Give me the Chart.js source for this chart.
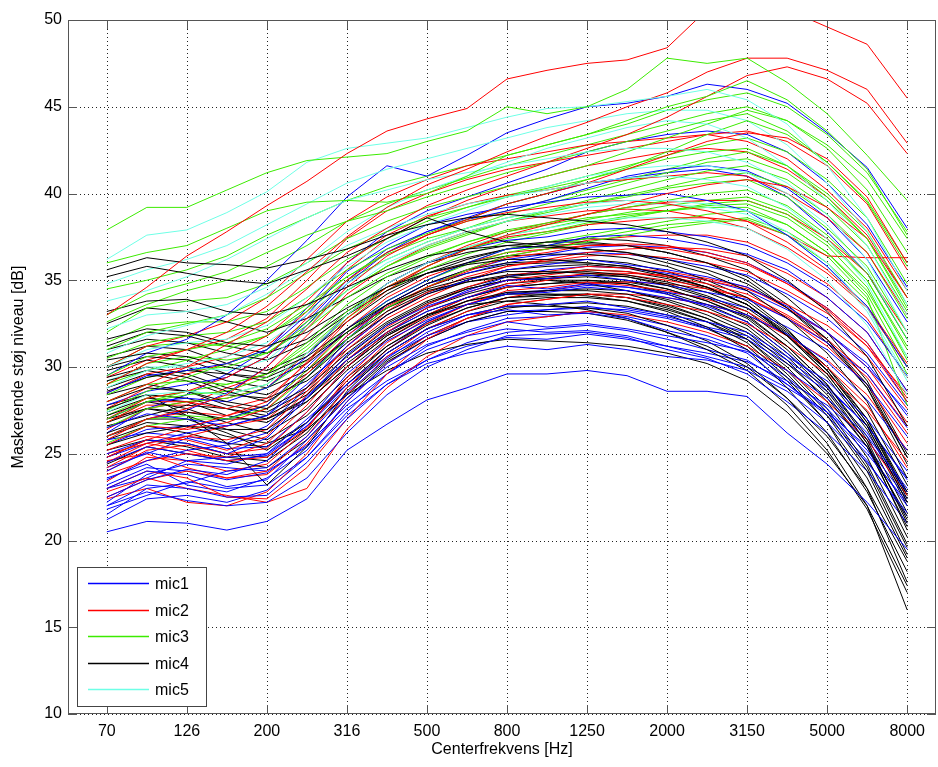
<!DOCTYPE html>
<html>
<head>
<meta charset="utf-8">
<script src="https://cdn.jsdelivr.net/npm/chart.js@4.4.1/dist/chart.umd.min.js"></script>
<style>
  body { margin: 0; background: #fff; }
  #wrap { width: 938px; height: 767px; }
</style>
</head>
<body>
<div id="wrap"><canvas id="chart" width="938" height="767"></canvas></div>
<script>
// 1/3-oktav centerfrekvenser (x-akse), kun hvert andet bånd får en etiket
const bandFreqs = [70, 100, 126, 160, 200, 250, 316, 400, 500, 630, 800, 1000, 1250, 1600, 2000, 2500, 3150, 4000, 5000, 6300, 8000];
const tickFreqs = [70, 126, 200, 316, 500, 800, 1250, 2000, 3150, 5000, 8000];
const yTicks = [10, 15, 20, 25, 30, 35, 40, 45, 50];
const micNames = ["mic1", "mic2", "mic3", "mic4", "mic5"];
const micColors = ["rgb(0,0,255)", "rgb(255,0,0)", "rgb(60,235,0)", "rgb(0,0,0)", "rgb(110,255,230)"];

// mic1 (blå)
const mic1 = [
  [20.5, 21.1, 21.0, 20.6, 21.1, 22.4, 25.2, 26.7, 28.1, 28.8, 29.6, 29.6, 29.8, 29.5, 28.6, 28.6, 28.3, 26.2, 24.4, 22.2, 19.5],
  [22.0, 23.2, 23.0, 22.5, 22.6, 24.5, 27.0, 29.0, 30.2, 30.8, 31.2, 31.0, 31.3, 31.0, 30.6, 30.4, 29.8, 28.6, 26.8, 24.5, 21.6],
  [23.0, 24.0, 23.8, 23.1, 23.5, 25.8, 28.2, 30.0, 31.3, 32.0, 32.6, 32.3, 32.5, 32.2, 31.8, 31.4, 30.9, 29.8, 28.2, 26.0, 23.0],
  [24.0, 25.1, 24.6, 24.8, 25.0, 27.0, 29.0, 30.8, 32.2, 33.0, 33.5, 33.6, 33.8, 33.4, 33.0, 32.6, 32.0, 30.6, 29.2, 27.0, 24.0],
  [22.5, 23.5, 24.1, 23.8, 24.6, 26.8, 29.6, 31.5, 32.7, 33.6, 34.2, 34.3, 34.6, 34.4, 34.0, 33.6, 33.0, 31.9, 30.3, 28.1, 25.2],
  [25.0, 25.8, 25.6, 25.0, 25.9, 28.2, 30.7, 32.4, 33.5, 34.3, 35.0, 35.1, 35.3, 35.0, 34.7, 34.3, 33.9, 32.8, 31.4, 29.6, 26.5],
  [21.5, 23.0, 23.3, 24.0, 24.2, 26.0, 28.5, 30.5, 32.0, 33.0, 33.3, 33.0, 33.1, 32.8, 32.1, 31.6, 30.8, 29.0, 27.4, 25.0, 22.2],
  [26.5, 27.3, 27.0, 26.6, 27.2, 29.0, 31.2, 33.0, 34.2, 35.0, 35.6, 35.9, 36.2, 35.9, 35.6, 35.2, 34.6, 33.5, 32.0, 30.0, 27.4],
  [28.5, 29.5, 29.8, 30.2, 31.0, 33.0, 35.5, 37.0, 38.2, 38.8, 39.2, 39.5, 39.8, 39.9, 40.0, 39.6, 39.0, 37.6, 35.8, 33.5, 30.0],
  [29.5, 30.8, 31.6, 33.0, 35.0, 37.3, 39.8, 41.6, 41.0, 42.2, 43.5, 44.3, 45.0, 45.2, 45.6, 46.3, 46.0, 45.2, 43.5, 41.5, 38.0],
  [27.0, 28.0, 28.2, 28.0, 28.8, 30.6, 33.0, 34.8, 36.0, 36.8, 37.3, 37.5, 37.9, 38.0, 37.8, 37.5, 37.0, 36.0, 34.6, 32.6, 29.5],
  [23.5, 24.6, 25.2, 25.5, 26.2, 28.3, 30.4, 32.0, 33.2, 34.0, 34.7, 34.5, 34.8, 34.6, 34.2, 33.5, 32.6, 30.8, 28.9, 26.6, 23.5],
  [22.0, 22.8, 22.3, 22.0, 22.2, 23.6, 26.2, 28.4, 30.0, 31.0, 31.8, 31.9, 32.0, 31.7, 31.0, 30.5, 29.6, 28.0, 26.2, 24.0, 21.0],
  [25.5, 26.4, 26.6, 27.0, 27.8, 30.0, 32.2, 33.8, 35.0, 36.0, 36.8, 37.0, 37.5, 37.6, 37.4, 37.0, 36.5, 35.6, 34.0, 32.0, 28.6],
  [24.5, 25.4, 25.0, 24.6, 24.9, 26.6, 29.0, 31.0, 32.6, 33.6, 34.3, 34.4, 34.7, 34.6, 34.3, 34.0, 33.4, 32.3, 31.0, 29.0, 26.0],
  [26.0, 27.0, 27.5, 28.5, 30.0, 32.4, 34.8, 36.6, 37.8, 38.5, 39.0, 39.6, 40.3, 41.0, 41.4, 41.6, 41.3, 40.3, 38.6, 36.2, 32.6],
  [23.2, 24.2, 24.0, 23.5, 23.9, 25.5, 27.8, 29.6, 31.0, 31.8, 32.2, 32.0, 32.1, 31.8, 31.2, 30.6, 30.0, 28.8, 27.4, 25.4, 22.4],
  [21.8, 22.6, 23.4, 23.0, 23.2, 24.8, 27.4, 29.6, 31.2, 32.1, 32.8, 32.9, 33.2, 32.9, 32.4, 31.8, 31.0, 29.4, 27.6, 25.2, 22.0],
  [23.6, 24.4, 23.2, 22.8, 23.6, 25.2, 28.0, 30.2, 31.6, 32.6, 33.0, 33.3, 33.4, 33.3, 32.9, 32.3, 31.8, 30.4, 28.8, 26.6, 23.6],
  [24.2, 25.0, 25.9, 25.3, 25.4, 27.4, 30.0, 32.0, 33.4, 34.4, 35.2, 35.6, 35.8, 35.7, 35.4, 35.0, 34.4, 33.3, 32.0, 30.2, 27.2],
  [22.2, 23.8, 24.4, 24.2, 24.0, 25.4, 27.6, 29.2, 30.4, 31.2, 31.7, 31.6, 31.9, 31.6, 31.2, 30.8, 30.3, 29.2, 27.8, 25.8, 22.8],
  [25.8, 26.2, 26.0, 25.6, 26.6, 28.8, 31.6, 33.6, 34.8, 35.4, 36.0, 36.4, 36.6, 36.5, 36.2, 35.8, 35.3, 34.2, 32.8, 30.8, 27.8],
  [27.8, 28.6, 29.0, 29.4, 30.6, 32.6, 35.0, 36.8, 37.8, 38.6, 39.4, 40.0, 40.6, 40.9, 41.2, 41.4, 41.0, 39.8, 37.8, 35.4, 31.6],
  [23.0, 23.6, 24.6, 24.4, 25.0, 26.6, 28.8, 30.6, 31.8, 32.6, 33.2, 33.3, 33.5, 33.2, 32.8, 32.2, 31.6, 30.2, 28.6, 26.2, 22.8],
  [24.8, 25.6, 26.2, 26.6, 27.2, 29.4, 31.8, 33.6, 34.8, 35.6, 36.2, 36.5, 36.9, 37.0, 36.9, 36.6, 36.0, 34.9, 33.4, 31.4, 28.0],
  [21.2, 22.4, 22.6, 22.2, 22.9, 24.8, 27.2, 29.0, 30.4, 31.4, 32.0, 32.2, 32.4, 32.1, 31.6, 31.0, 30.4, 29.0, 27.2, 24.6, 21.4],
  [26.2, 27.6, 28.4, 29.6, 31.0, 33.4, 36.0, 37.8, 39.0, 39.8, 40.6, 41.4, 42.4, 43.0, 43.4, 43.6, 43.4, 42.4, 40.6, 38.2, 34.6]
];

// mic2 (rød)
const mic2 = [
  [33.0, 34.6, 36.4, 37.8, 39.3, 40.7, 42.3, 43.6, 44.3, 44.9, 46.6, 47.1, 47.5, 47.7, 48.4, 50.6, 51.0, 50.6, 49.6, 48.6, 45.5],
  [29.0, 30.2, 31.0, 32.0, 33.5, 35.5, 37.5, 39.2, 40.5, 41.4, 42.4, 43.3, 44.1, 45.0, 45.8, 47.0, 47.8, 47.8, 47.1, 46.0, 42.9],
  [28.0, 29.0, 30.0, 31.3, 32.6, 34.5, 36.6, 38.0, 39.3, 40.2, 41.0, 41.8, 42.6, 43.4, 44.4, 45.6, 46.8, 47.3, 46.6, 45.2, 42.3],
  [26.0, 27.0, 27.6, 28.4, 30.0, 32.2, 34.6, 36.4, 37.6, 38.5, 39.4, 40.0, 40.6, 41.4, 42.2, 43.0, 43.5, 43.2, 42.0, 39.8, 36.0],
  [24.8, 25.8, 26.5, 27.2, 28.0, 30.3, 32.8, 34.6, 35.8, 36.8, 37.6, 38.2, 38.8, 39.4, 40.0, 40.5, 40.8, 40.4, 39.2, 37.4, 34.0],
  [23.0, 24.0, 23.6, 22.5, 22.4, 24.2, 27.0, 29.6, 31.6, 32.8, 33.6, 33.9, 34.2, 34.0, 33.6, 33.2, 32.5, 31.2, 29.6, 27.5, 24.6],
  [24.0, 25.2, 25.5, 25.0, 25.3, 27.4, 30.0, 32.0, 33.4, 34.3, 35.0, 35.3, 35.6, 35.5, 35.2, 34.8, 34.2, 33.0, 31.6, 29.6, 26.6],
  [25.5, 26.6, 26.4, 26.8, 27.6, 29.6, 31.8, 33.5, 34.6, 35.5, 36.3, 36.6, 37.0, 37.1, 37.0, 36.6, 36.0, 34.8, 33.3, 31.2, 28.0],
  [27.0, 28.2, 28.6, 29.4, 30.6, 32.8, 35.0, 36.6, 37.6, 38.4, 38.9, 39.2, 39.5, 39.6, 39.4, 39.0, 38.4, 37.2, 35.6, 33.5, 30.2],
  [22.5, 23.5, 24.0, 23.6, 24.0, 26.0, 28.8, 31.0, 32.5, 33.6, 34.4, 34.6, 34.9, 34.7, 34.4, 33.9, 33.2, 31.8, 30.0, 27.8, 24.2],
  [30.0, 31.2, 31.8, 32.6, 34.0, 36.2, 38.4, 39.8, 40.8, 41.6, 42.0, 42.4, 42.8, 43.0, 43.2, 43.4, 43.0, 42.0, 40.2, 38.0, 34.4],
  [25.0, 25.6, 25.2, 24.6, 24.8, 26.5, 29.2, 31.4, 32.8, 33.8, 34.6, 35.0, 35.4, 35.4, 35.3, 35.0, 34.5, 33.6, 32.4, 30.6, 27.6],
  [26.8, 28.0, 28.0, 27.6, 28.2, 30.2, 32.6, 34.4, 35.8, 36.8, 37.5, 37.8, 38.2, 38.4, 38.6, 38.6, 38.4, 37.6, 36.4, 36.3, 36.3],
  [23.8, 24.6, 25.0, 24.8, 25.6, 27.8, 30.4, 32.3, 33.6, 34.6, 35.3, 35.5, 35.8, 35.7, 35.5, 35.1, 34.6, 33.4, 32.0, 30.0, 26.8],
  [28.5, 29.6, 30.0, 30.6, 31.8, 33.8, 36.0, 37.6, 38.7, 39.4, 39.9, 40.2, 40.6, 40.8, 41.0, 41.2, 41.0, 40.0, 38.6, 36.6, 33.0],
  [24.5, 25.6, 26.0, 25.8, 26.4, 28.6, 31.2, 33.0, 34.3, 35.2, 35.8, 36.1, 36.4, 36.5, 36.3, 36.0, 35.5, 34.4, 33.1, 31.2, 28.4],
  [22.8, 23.6, 23.0, 22.6, 22.2, 23.0, 26.4, 28.8, 30.6, 31.8, 32.6, 32.9, 33.2, 33.0, 32.6, 32.0, 31.2, 29.8, 28.0, 25.8, 22.6],
  [24.2, 25.4, 26.0, 26.6, 27.0, 28.8, 31.2, 33.2, 34.6, 35.6, 36.4, 36.8, 37.3, 37.5, 37.6, 37.6, 37.2, 36.2, 34.8, 32.8, 29.4],
  [25.2, 26.0, 25.8, 25.2, 26.0, 28.4, 31.0, 32.8, 34.0, 35.0, 35.8, 36.2, 36.6, 36.8, 36.9, 36.8, 36.4, 35.4, 34.0, 32.0, 28.6],
  [23.4, 24.8, 24.6, 24.0, 24.4, 26.4, 29.4, 31.6, 33.0, 34.0, 34.8, 35.1, 35.4, 35.3, 35.0, 34.6, 34.0, 32.8, 31.2, 29.0, 25.6],
  [26.4, 27.6, 28.0, 28.2, 28.8, 30.8, 33.0, 34.8, 36.0, 37.0, 37.8, 38.3, 38.8, 39.2, 39.5, 39.6, 39.6, 38.8, 37.4, 35.4, 32.0],
  [27.6, 28.8, 29.6, 30.2, 31.2, 33.2, 35.6, 37.4, 38.6, 39.6, 40.4, 41.0, 41.6, 42.0, 42.4, 42.6, 42.4, 41.4, 39.8, 37.6, 34.0],
  [24.6, 25.0, 24.2, 23.6, 23.8, 25.6, 28.4, 30.6, 32.2, 33.2, 34.0, 34.4, 34.8, 34.9, 34.8, 34.5, 34.0, 32.9, 31.4, 29.4, 26.2],
  [25.8, 27.0, 27.4, 27.2, 27.8, 29.8, 32.2, 34.0, 35.2, 36.0, 36.6, 36.8, 37.0, 37.0, 36.8, 36.4, 35.9, 34.8, 33.4, 31.4, 28.2],
  [22.4, 23.0, 22.2, 22.0, 22.8, 25.0, 28.0, 30.2, 31.8, 32.8, 33.6, 33.9, 34.2, 34.2, 34.0, 33.6, 33.0, 31.8, 30.4, 28.4, 25.2],
  [29.4, 30.4, 31.0, 31.6, 32.8, 35.0, 37.4, 39.0, 40.0, 40.8, 41.4, 41.8, 42.2, 42.6, 43.0, 43.4, 43.6, 43.0, 41.6, 39.4, 35.6],
  [26.8, 27.8, 27.8, 28.8, 29.6, 31.8, 34.2, 35.8, 37.0, 37.8, 38.4, 38.7, 39.0, 39.1, 39.0, 38.6, 38.0, 36.9, 35.4, 33.4, 30.0]
];

// mic3 (grøn)
const mic3 = [
  [37.9, 39.2, 39.2, 40.2, 41.2, 41.9, 42.1, 42.3, 43.0, 43.6, 45.0, 44.6, 45.0, 46.0, 47.8, 47.5, 47.8, 46.4, 44.6, 42.2, 39.6],
  [36.0, 36.6, 37.0, 38.0, 39.0, 39.5, 39.6, 39.5, 40.0, 41.0, 42.2, 42.8, 43.4, 44.2, 45.0, 45.6, 46.5, 45.4, 43.6, 41.4, 37.6],
  [33.0, 34.2, 34.8, 35.5, 36.6, 37.6, 38.4, 39.0, 39.8, 40.5, 41.2, 41.8, 42.4, 43.0, 43.6, 44.2, 44.6, 43.6, 41.8, 39.5, 35.8],
  [31.0, 32.0, 32.5, 33.0, 34.0, 35.4, 36.8, 37.8, 38.6, 39.2, 39.8, 40.3, 40.8, 41.4, 42.0, 42.4, 42.6, 41.6, 39.8, 37.4, 33.4],
  [29.5, 30.6, 31.0, 31.4, 32.2, 33.6, 35.2, 36.5, 37.4, 38.0, 38.6, 39.0, 39.4, 39.8, 40.3, 40.6, 40.8, 39.8, 38.0, 35.8, 32.0],
  [28.0, 29.0, 29.2, 29.0, 29.6, 31.4, 33.6, 35.2, 36.3, 37.2, 37.9, 38.3, 38.8, 39.2, 39.6, 40.0, 40.2, 39.3, 37.6, 35.4, 31.6],
  [27.0, 28.0, 28.4, 28.6, 29.4, 31.0, 33.0, 34.6, 35.8, 36.8, 37.4, 37.8, 38.3, 38.7, 39.0, 39.3, 39.4, 38.6, 37.0, 34.6, 30.4],
  [30.5, 31.4, 31.8, 32.0, 32.6, 34.0, 35.6, 36.8, 37.7, 38.5, 39.4, 40.0, 40.8, 41.5, 42.4, 43.4, 44.2, 43.4, 41.8, 39.6, 36.0],
  [26.0, 27.0, 27.2, 27.0, 27.6, 29.4, 31.6, 33.4, 34.6, 35.6, 36.4, 36.8, 37.2, 37.6, 38.0, 38.3, 38.5, 37.6, 36.0, 33.8, 29.6],
  [32.0, 33.4, 33.8, 34.0, 34.8, 36.0, 37.4, 38.4, 39.2, 39.8, 40.4, 41.0, 41.6, 42.4, 43.2, 44.0, 44.8, 44.2, 42.8, 40.8, 37.4],
  [27.5, 28.6, 29.4, 30.2, 31.0, 32.6, 34.4, 35.8, 36.8, 37.6, 38.4, 39.0, 39.6, 40.2, 40.8, 41.3, 41.6, 40.8, 39.2, 37.0, 33.2],
  [29.0, 30.2, 30.6, 30.4, 30.8, 32.2, 34.0, 35.4, 36.4, 37.2, 37.8, 38.2, 38.6, 38.8, 39.0, 39.2, 39.2, 38.2, 36.6, 34.2, 30.0],
  [34.5, 35.0, 35.6, 36.4, 37.6, 38.6, 39.6, 40.4, 41.0, 41.6, 42.2, 42.8, 43.4, 44.0, 44.8, 45.4, 45.8, 45.0, 43.4, 41.2, 37.8],
  [26.5, 27.6, 28.0, 28.2, 28.8, 30.4, 32.2, 33.8, 35.0, 35.9, 36.6, 37.0, 37.4, 37.8, 38.2, 38.4, 38.6, 37.8, 36.4, 34.0, 27.8],
  [28.4, 29.4, 29.8, 30.0, 30.8, 32.4, 34.4, 35.8, 36.9, 37.7, 38.4, 38.9, 39.4, 39.9, 40.4, 40.9, 41.2, 40.4, 38.8, 36.6, 32.8],
  [30.0, 31.2, 31.4, 31.2, 31.8, 33.4, 35.2, 36.6, 37.6, 38.4, 39.0, 39.6, 40.2, 40.8, 41.4, 42.0, 42.4, 41.6, 40.0, 37.8, 34.0],
  [27.2, 28.2, 28.6, 28.4, 29.0, 30.8, 32.8, 34.4, 35.6, 36.5, 37.2, 37.7, 38.2, 38.6, 39.0, 39.4, 39.6, 38.8, 37.2, 35.0, 31.0],
  [32.6, 33.6, 34.4, 35.0, 35.8, 37.0, 38.4, 39.4, 40.2, 40.9, 41.6, 42.2, 42.8, 43.4, 44.0, 44.6, 45.0, 44.2, 42.6, 40.2, 36.6],
  [25.6, 26.6, 27.0, 27.0, 27.8, 29.8, 32.0, 33.8, 35.0, 36.0, 36.8, 37.2, 37.6, 38.0, 38.4, 38.8, 39.0, 38.2, 36.6, 34.4, 30.6],
  [31.4, 32.4, 32.6, 32.6, 33.2, 34.6, 36.2, 37.4, 38.4, 39.2, 39.9, 40.4, 41.0, 41.6, 42.2, 42.8, 43.2, 42.4, 40.8, 38.6, 34.8],
  [29.0, 29.8, 30.4, 31.0, 31.8, 33.2, 35.0, 36.2, 37.2, 38.0, 38.8, 39.4, 40.0, 40.6, 41.2, 41.8, 42.0, 41.2, 39.6, 37.4, 33.6],
  [26.8, 28.0, 28.6, 29.0, 29.6, 31.2, 33.2, 34.8, 36.0, 36.9, 37.6, 38.0, 38.5, 38.9, 39.3, 39.6, 39.8, 39.0, 37.4, 35.0, 31.2]
];

// mic4 (sort)
const mic4 = [
  [35.6, 36.3, 36.0, 35.9, 35.7, 36.2, 36.8, 37.6, 38.2, 38.6, 38.8, 38.6, 38.4, 38.2, 37.8, 37.2, 36.4, 35.0, 33.2, 30.6, 26.6],
  [35.2, 35.8, 35.4, 35.0, 34.8, 35.6, 36.4, 37.4, 38.6, 37.8, 37.2, 37.0, 36.8, 36.6, 36.2, 35.6, 34.8, 33.4, 31.6, 29.0, 24.8],
  [33.2, 33.8, 33.9, 33.2, 33.0, 33.6, 34.6, 35.6, 36.4, 36.8, 37.0, 36.9, 36.8, 36.6, 36.0, 35.4, 34.4, 32.8, 30.8, 28.0, 23.6],
  [31.6, 32.2, 32.0, 31.4, 31.2, 32.0, 33.4, 34.6, 35.4, 35.9, 36.2, 36.2, 36.0, 35.8, 35.3, 34.6, 33.6, 31.8, 29.6, 26.6, 22.2],
  [30.4, 30.8, 30.6, 30.0, 29.6, 30.6, 32.2, 33.6, 34.5, 35.1, 35.5, 35.5, 35.4, 35.2, 34.7, 34.0, 33.0, 31.2, 29.0, 25.8, 21.0],
  [29.2, 29.8, 29.4, 28.6, 28.0, 29.4, 31.4, 33.0, 34.2, 34.9, 35.3, 35.4, 35.5, 35.3, 34.9, 34.3, 33.4, 31.8, 29.8, 27.0, 22.8],
  [28.0, 28.8, 28.6, 28.0, 27.6, 28.8, 30.8, 32.5, 33.7, 34.5, 35.0, 35.1, 35.2, 35.0, 34.5, 33.8, 32.8, 31.0, 28.8, 25.6, 20.6],
  [27.2, 28.0, 27.6, 26.8, 26.2, 27.6, 29.8, 31.6, 32.9, 33.8, 34.3, 34.4, 34.4, 34.2, 33.6, 32.8, 31.6, 29.6, 27.2, 24.0, 19.2],
  [26.2, 27.0, 27.0, 26.2, 25.2, 26.8, 29.0, 31.0, 32.4, 33.4, 34.0, 34.1, 34.2, 34.0, 33.4, 32.6, 31.4, 29.4, 26.8, 23.0, 17.6],
  [27.6, 28.4, 27.2, 25.6, 23.2, 25.4, 28.6, 30.8, 32.2, 33.0, 33.5, 33.5, 33.4, 33.1, 32.4, 31.5, 30.2, 28.2, 25.6, 22.0, 16.0],
  [25.5, 26.2, 26.6, 26.4, 26.4, 28.0, 30.0, 31.8, 33.0, 33.8, 34.2, 34.2, 34.1, 33.8, 33.2, 32.3, 31.0, 28.8, 26.2, 22.8, 18.2],
  [31.0, 31.6, 31.4, 30.8, 30.4, 31.4, 33.0, 34.4, 35.4, 36.0, 36.4, 36.5, 36.5, 36.3, 35.8, 35.0, 34.0, 32.2, 29.8, 26.8, 22.4],
  [28.6, 29.4, 29.8, 29.6, 29.4, 30.4, 32.0, 33.4, 34.4, 34.9, 35.2, 35.0, 34.8, 34.4, 33.8, 33.0, 32.0, 30.2, 28.2, 25.4, 21.4],
  [27.0, 27.6, 27.4, 27.0, 27.0, 28.2, 30.2, 31.9, 33.0, 33.6, 33.8, 33.6, 33.3, 32.8, 32.0, 31.2, 30.0, 28.2, 26.0, 23.0, 18.8],
  [32.5, 33.4, 33.2, 32.6, 32.0, 32.8, 34.0, 35.2, 36.0, 36.6, 37.0, 37.2, 37.2, 37.0, 36.6, 36.0, 35.0, 33.4, 31.4, 28.8, 24.8],
  [29.8, 30.4, 30.0, 29.2, 28.8, 29.8, 31.6, 33.2, 34.3, 35.0, 35.6, 35.8, 35.9, 35.7, 35.2, 34.6, 33.6, 32.0, 30.0, 27.4, 23.2],
  [26.6, 27.2, 27.8, 27.6, 27.2, 28.4, 30.4, 32.0, 33.2, 34.0, 34.6, 34.8, 34.9, 34.8, 34.3, 33.6, 32.6, 30.8, 28.6, 25.6, 21.2],
  [24.4, 25.4, 25.0, 24.6, 24.2, 25.8, 28.2, 30.3, 31.6, 32.6, 33.2, 33.2, 33.1, 32.7, 32.0, 31.0, 29.8, 27.8, 25.2, 21.8, 17.0],
  [25.2, 25.8, 25.6, 25.0, 24.8, 26.4, 28.4, 29.8, 30.8, 31.3, 31.6, 31.5, 31.4, 31.2, 30.8, 30.2, 29.2, 27.4, 25.0, 22.0, 17.4],
  [28.4, 29.0, 28.6, 27.8, 27.4, 28.6, 30.6, 32.4, 33.6, 34.5, 35.0, 35.2, 35.3, 35.2, 34.8, 34.1, 33.2, 31.5, 29.4, 26.4, 22.0],
  [30.0, 30.6, 30.4, 29.6, 29.2, 30.2, 32.0, 33.6, 34.8, 35.6, 36.0, 36.1, 36.2, 36.0, 35.5, 34.8, 33.8, 32.1, 30.0, 27.0, 22.6],
  [26.8, 27.6, 27.2, 26.4, 25.8, 27.2, 29.4, 31.2, 32.6, 33.6, 34.2, 34.4, 34.5, 34.4, 33.9, 33.2, 32.2, 30.4, 28.0, 24.8, 20.2],
  [27.8, 28.4, 28.2, 27.6, 27.0, 28.0, 30.0, 31.8, 33.0, 34.0, 34.6, 34.8, 35.0, 34.9, 34.5, 33.8, 32.9, 31.2, 29.0, 26.0, 21.6],
  [29.4, 30.0, 29.6, 28.8, 28.4, 29.6, 31.6, 33.4, 34.6, 35.4, 35.9, 36.0, 36.0, 35.8, 35.3, 34.6, 33.6, 31.8, 29.6, 26.6, 22.2],
  [25.8, 26.6, 26.2, 25.6, 25.4, 26.8, 29.2, 31.2, 32.5, 33.4, 34.0, 34.2, 34.2, 34.0, 33.5, 32.8, 31.8, 30.0, 27.6, 24.4, 19.8],
  [31.2, 32.0, 31.8, 31.2, 30.8, 31.6, 33.2, 34.6, 35.6, 36.3, 36.8, 37.0, 37.1, 37.0, 36.6, 36.0, 35.2, 33.6, 31.6, 28.8, 24.4],
  [27.4, 28.2, 28.0, 27.2, 26.8, 28.2, 30.4, 32.2, 33.4, 34.2, 34.8, 35.0, 35.0, 34.8, 34.2, 33.4, 32.4, 30.6, 28.4, 25.4, 20.8],
  [28.8, 29.6, 29.2, 28.4, 28.2, 29.2, 31.0, 32.6, 33.8, 34.6, 35.2, 35.4, 35.6, 35.5, 35.1, 34.5, 33.6, 31.9, 29.8, 26.8, 22.6],
  [26.0, 26.8, 26.6, 26.0, 25.6, 26.4, 28.4, 30.4, 31.8, 32.8, 33.4, 33.6, 33.7, 33.5, 33.0, 32.2, 31.2, 29.2, 26.8, 23.6, 19.0],
  [30.6, 31.2, 31.0, 30.2, 29.8, 30.8, 32.6, 34.2, 35.4, 36.2, 36.8, 37.2, 37.4, 37.3, 37.0, 36.4, 35.6, 34.0, 32.0, 29.2, 25.0],
  [24.8, 25.8, 25.4, 24.8, 24.6, 26.2, 28.8, 30.8, 32.2, 33.2, 33.8, 34.0, 34.0, 33.8, 33.3, 32.6, 31.6, 29.8, 27.4, 24.2, 19.6]
];

// mic5 (cyan)
const mic5 = [
  [36.2, 37.6, 37.9, 38.9, 40.1, 41.8, 42.6, 42.9, 43.2, 43.8, 44.4, 44.9, 45.0, 45.3, 45.6, 46.0, 45.4, 44.0, 41.6, 38.6, 34.4],
  [33.8, 34.4, 35.2, 36.2, 37.4, 38.6, 39.6, 40.2, 40.8, 41.2, 41.6, 42.0, 42.4, 42.6, 42.6, 42.4, 41.8, 40.6, 38.8, 36.2, 32.0],
  [30.8, 31.8, 32.4, 33.0, 34.2, 35.6, 37.0, 38.0, 38.8, 39.4, 39.8, 40.2, 40.6, 40.9, 41.0, 40.8, 40.4, 39.2, 37.4, 34.8, 30.6],
  [28.8, 29.8, 30.2, 30.6, 31.4, 33.0, 34.8, 36.2, 37.2, 38.0, 38.6, 39.0, 39.4, 39.6, 39.6, 39.4, 39.0, 37.8, 36.0, 33.4, 29.4],
  [32.2, 33.0, 33.2, 33.6, 34.6, 36.0, 37.8, 39.2, 40.2, 41.0, 41.8, 42.6, 43.2, 43.8, 44.2, 44.0, 43.2, 41.6, 39.6, 37.0, 33.0],
  [27.4, 28.4, 28.6, 28.4, 29.0, 30.8, 33.0, 34.8, 36.0, 36.9, 37.6, 38.0, 38.4, 38.6, 38.6, 38.4, 38.0, 36.8, 35.0, 32.4, 28.4],
  [30.0, 31.0, 31.4, 31.6, 32.4, 34.0, 35.8, 37.2, 38.2, 39.0, 39.8, 40.4, 41.0, 41.4, 41.6, 41.6, 41.2, 40.0, 38.2, 35.6, 31.6],
  [34.8, 35.6, 36.2, 37.0, 38.2, 39.4, 40.6, 41.4, 42.0, 42.6, 43.2, 43.8, 44.2, 44.6, 44.8, 44.8, 44.2, 42.8, 40.6, 37.8, 33.6],
  [29.2, 30.0, 30.0, 29.8, 30.4, 32.2, 34.4, 36.0, 37.0, 37.8, 38.4, 38.8, 39.2, 39.4, 39.4, 39.2, 38.8, 37.6, 35.8, 33.2, 29.2]
];

const micCurves = [mic1, mic2, mic3, mic4, mic5];

// kurverne flettes, så ingen mikrofon ligger helt øverst
const datasets = [];
const maxCount = Math.max(...micCurves.map((c) => c.length));
for (let k = 0; k < maxCount; k++) {
  micCurves.forEach((curves, m) => {
    if (!curves[k]) return;
    datasets.push({
      label: micNames[m],
      data: curves[k].map((v, i) => ({ x: i + 1, y: v })),
      borderColor: micColors[m],
      borderWidth: 1,
      pointRadius: 0,
      tension: 0,
      fill: false,
    });
  });
}

const FONT = "'Liberation Sans', Arial, Helvetica, sans-serif";

// prikket gitter, ramme, indadvendte tickmærker og forklaring (som i MATLAB)
const matlabFrame = {
  id: "matlabFrame",
  beforeDatasetsDraw(chart) {
    const { ctx, chartArea: a, scales } = chart;
    ctx.save();
    ctx.strokeStyle = "#222";
    ctx.lineWidth = 1;
    ctx.setLineDash([1, 3]);
    ctx.beginPath();
    scales.x.ticks.forEach((t) => {
      const px = Math.round(scales.x.getPixelForValue(t.value)) + 0.5;
      ctx.moveTo(px, a.bottom); ctx.lineTo(px, a.top);
    });
    scales.y.ticks.forEach((t) => {
      const py = Math.round(scales.y.getPixelForValue(t.value)) + 0.5;
      ctx.moveTo(a.left, py); ctx.lineTo(a.right, py);
    });
    ctx.stroke();
    ctx.restore();
  },
  afterDatasetsDraw(chart) {
    const { ctx, chartArea: a, scales } = chart;
    ctx.save();
    ctx.strokeStyle = "#555";
    ctx.lineWidth = 1;
    ctx.strokeRect(a.left + 0.5, a.top + 0.5, a.right - a.left - 1, a.bottom - a.top - 1);
    ctx.beginPath();
    scales.x.ticks.forEach((t) => {
      const px = Math.round(scales.x.getPixelForValue(t.value)) + 0.5;
      ctx.moveTo(px, a.bottom); ctx.lineTo(px, a.bottom - 9);
      ctx.moveTo(px, a.top); ctx.lineTo(px, a.top + 9);
    });
    scales.y.ticks.forEach((t) => {
      const py = Math.round(scales.y.getPixelForValue(t.value)) + 0.5;
      ctx.moveTo(a.left, py); ctx.lineTo(a.left + 9, py);
      ctx.moveTo(a.right, py); ctx.lineTo(a.right - 9, py);
    });
    ctx.stroke();
    ctx.restore();
  },
  afterDraw(chart) {
    const { ctx } = chart;
    const box = { x: 77.5, y: 567.5, w: 129, h: 139 };
    ctx.save();
    ctx.fillStyle = "#fff";
    ctx.fillRect(box.x, box.y, box.w, box.h);
    ctx.strokeStyle = "#444";
    ctx.lineWidth = 1;
    ctx.strokeRect(box.x, box.y, box.w, box.h);
    ctx.font = "16px " + FONT;
    ctx.textBaseline = "middle";
    micNames.forEach((name, i) => {
      const y = Math.round(583 + i * 26.5) + 0.5;
      ctx.strokeStyle = micColors[i];
      ctx.lineWidth = 1.5;
      ctx.beginPath();
      ctx.moveTo(88, y);
      ctx.lineTo(149, y);
      ctx.stroke();
      ctx.fillStyle = "#000";
      ctx.fillText(name, 155, y + 1);
    });
    ctx.restore();
  },
};

new Chart(document.getElementById("chart"), {
  type: "line",
  data: { datasets },
  plugins: [matlabFrame],
  options: {
    responsive: false,
    animation: false,
    events: [],
    layout: { padding: { left: 0, right: 2, top: 20, bottom: 0 } },
    plugins: { legend: { display: false }, tooltip: { enabled: false } },
    scales: {
      x: {
        type: "linear",
        min: 0.03,
        max: 21.72,
        afterBuildTicks: (scale) => {
          scale.ticks = tickFreqs.map((f) => ({ value: bandFreqs.indexOf(f) + 1 }));
        },
        afterFit: (scale) => { scale.height = 53; },
        ticks: {
          callback: (v) => String(bandFreqs[v - 1]),
          color: "#000",
          font: { size: 16, family: FONT },
          padding: 8,
          maxRotation: 0,
          autoSkip: false,
        },
        grid: { display: false, drawTicks: false },
        border: { display: false },
        title: { display: true, text: "Centerfrekvens [Hz]", color: "#000", font: { size: 16, family: FONT }, padding: { top: 0, bottom: 8 } },
      },
      y: {
        min: 10,
        max: 50,
        afterBuildTicks: (scale) => {
          scale.ticks = yTicks.map((v) => ({ value: v }));
        },
        afterFit: (scale) => { scale.width = 68; },
        ticks: {
          color: "#000",
          font: { size: 16, family: FONT },
          padding: 6,
        },
        grid: { display: false, drawTicks: false },
        border: { display: false },
        title: { display: true, text: "Maskerende støj niveau [dB]", color: "#000", font: { size: 16, family: FONT }, padding: { top: 9, bottom: 0 } },
      },
    },
  },
});
</script>
</body>
</html>
